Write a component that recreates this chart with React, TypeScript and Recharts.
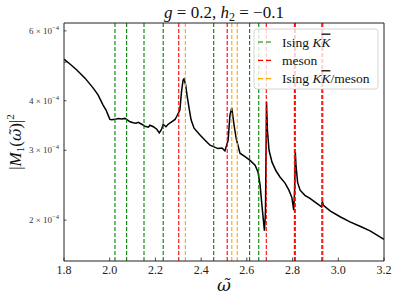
import { LineChart, Line, XAxis, YAxis, ReferenceLine } from "recharts";

// omega tilde values (x) and |M1|^2 in units of 1e-4 (y)
const omegaValues = [
  1.8, 1.826, 1.856, 1.892, 1.927, 1.949, 1.971, 1.984, 1.993, 2.001, 2.009, 2.023, 2.038, 2.052, 2.067, 2.077,
  2.089, 2.103, 2.115, 2.125, 2.14, 2.154, 2.169, 2.176, 2.191, 2.206, 2.217, 2.227, 2.234, 2.246, 2.256, 2.271,
  2.286, 2.293, 2.307, 2.314, 2.321, 2.325, 2.332, 2.338, 2.347, 2.356, 2.369, 2.395, 2.417, 2.439, 2.456, 2.474,
  2.491, 2.504, 2.518, 2.526, 2.534, 2.544, 2.553, 2.57, 2.592, 2.614, 2.636, 2.649, 2.658, 2.666, 2.673, 2.677,
  2.681, 2.682, 2.686, 2.69, 2.697, 2.71, 2.728, 2.745, 2.767, 2.784, 2.797, 2.805, 2.809, 2.812, 2.815, 2.822,
  2.833, 2.854, 2.876, 2.903, 2.927, 2.93, 2.935, 2.964, 3.008, 3.051, 3.095, 3.139, 3.2,
];
const m1Squared = [
  5.09, 4.95, 4.78, 4.56, 4.31, 4.14, 3.9, 3.79, 3.68, 3.59, 3.58, 3.59, 3.61, 3.6, 3.61, 3.58,
  3.54, 3.52, 3.51, 3.53, 3.49, 3.45, 3.43, 3.47, 3.44, 3.39, 3.32, 3.39, 3.49, 3.44, 3.49, 3.54,
  3.59, 3.65, 3.79, 4.21, 4.51, 4.54, 4.39, 4.14, 3.84, 3.58, 3.41, 3.28, 3.18, 3.09, 3.06, 3.03,
  3.04, 2.99, 3.18, 3.68, 3.84, 3.47, 3.22, 2.95, 2.89, 2.83, 2.75, 2.64, 2.45, 2.18, 1.98, 1.88,
  2.06, 2.25, 3.97, 3.37, 3.0, 2.8, 2.66, 2.57, 2.48, 2.38, 2.28, 2.12, 2.38, 2.97, 2.75, 2.49,
  2.38, 2.31, 2.27, 2.21, 2.16, 2.23, 2.18, 2.11, 2.04, 1.98, 1.93, 1.88, 1.79,
];

const isingKK = [2.023, 2.074, 2.15, 2.234, 2.455, 2.612, 2.652];
const meson = [2.302, 2.514, 2.685, 2.808, 2.812, 2.928, 2.932];
const isingKKMeson = [2.331, 2.534, 2.558];

const xTicks = [1.8, 2.0, 2.2, 2.4, 2.6, 2.8, 3.0, 3.2];
const yTicks = [2, 3, 4, 5, 6];
const yLabelled = [2, 3, 4, 6];

const data = omegaValues.map((w, i) => ({ w, v: m1Squared[i] }));

const serif = '"Liberation Serif", "DejaVu Serif", serif';
const mathSerif = '"DejaVu Serif", serif';

const XTick = ({ x, y, payload }: any) => (
  <g>
    <line x1={x} x2={x} y1={y} y2={y - 3.5} stroke="#222" strokeWidth={0.8} />
    <text x={x} y={y + 13} textAnchor="middle" fontSize={12} fontFamily={serif} fill="#222">
      {payload.value.toFixed(1)}
    </text>
  </g>
);

const YTick = ({ x, y, payload }: any) => (
  <g>
    <line x1={x} x2={x + 2.5} y1={y} y2={y} stroke="#222" strokeWidth={0.8} />
    {yLabelled.includes(payload.value) && (
      <text x={x - 5} y={y + 3} textAnchor="end" fontSize={9} fontFamily={serif} fill="#333">
        {payload.value} × 10
        <tspan fontSize={6.5} dy={-4}>−4</tspan>
      </text>
    )}
  </g>
);

const legendItems = [
  { color: "green", label: "kk" },
  { color: "red", label: "meson" },
  { color: "orange", label: "kkm" },
];

export default function App() {
  return (
    <div style={{ position: "relative", width: 399, height: 301 }}>
      <style>{"body{margin:0}"}</style>
      <LineChart width={399} height={301} data={data} margin={{ top: 22, right: 14, bottom: 20, left: 24 }}>
        <XAxis
          type="number"
          dataKey="w"
          domain={[1.8, 3.2]}
          ticks={xTicks}
          interval={0}
          height={20}
          tickSize={0}
          tickMargin={0}
          tick={<XTick />}
          axisLine={{ stroke: "#222" }}
          allowDataOverflow
        />
        <XAxis xAxisId="top" orientation="top" type="number" domain={[1.8, 3.2]} height={1} tick={false} tickLine={false} axisLine={{ stroke: "#222" }} />
        <YAxis
          type="number"
          scale="log"
          domain={[1.578, 6.28]}
          ticks={yTicks}
          interval={0}
          width={40}
          tickSize={0}
          tickMargin={0}
          tick={<YTick />}
          axisLine={{ stroke: "#222" }}
          allowDataOverflow
        />
        <YAxis yAxisId="right" orientation="right" type="number" domain={[0, 1]} width={1} tick={false} tickLine={false} axisLine={{ stroke: "#222" }} />
        <Line type="linear" dataKey="v" stroke="#000" strokeWidth={1.5} dot={false} isAnimationActive={false} />
        {isingKK.map((x) => (
          <ReferenceLine key={"g" + x} x={x} stroke="green" strokeWidth={1.1} strokeDasharray="4 2" />
        ))}
        {meson.map((x) => (
          <ReferenceLine key={"r" + x} x={x} stroke="red" strokeWidth={1.1} strokeDasharray="4 2" />
        ))}
        {isingKKMeson.map((x) => (
          <ReferenceLine key={"o" + x} x={x} stroke="orange" strokeWidth={1.1} strokeDasharray="4 2" />
        ))}
      </LineChart>
      <svg width={399} height={301} style={{ position: "absolute", left: 0, top: 0, pointerEvents: "none" }}>
        <text x={224} y={18} textAnchor="middle" fontSize={17} fontFamily={serif} fill="#111">
          <tspan fontStyle="italic">g</tspan> = 0.2, <tspan fontStyle="italic">h</tspan>
          <tspan fontSize={12} dy={3}>2</tspan>
          <tspan dy={-3}> = −0.1</tspan>
        </text>
        <text x={224} y={291} textAnchor="middle" fontSize={17} fontFamily={mathSerif} fontStyle="italic" fill="#111">
          ω̃
        </text>
        <text transform="translate(21,142) rotate(-90)" textAnchor="middle" fontSize={17} fontFamily={serif} fill="#111">
          |<tspan fontStyle="italic">M</tspan>
          <tspan fontSize={11} dy={3}>1</tspan>
          <tspan dy={-3}>(</tspan>
          <tspan fontStyle="italic" fontFamily={mathSerif} fontSize={15}>ω̃</tspan>)|
          <tspan fontSize={11} dy={-7}>2</tspan>
        </text>
        <rect x={254} y={29} width={124} height={60} rx={3} fill="#fff" fillOpacity={0.8} stroke="#ccc" strokeWidth={0.8} />
        {legendItems.map((it, i) => {
          const cy = 42 + i * 18.3;
          return (
            <g key={it.label}>
              <line x1={258} x2={271} y1={cy} y2={cy} stroke={it.color} strokeWidth={1.2} strokeDasharray="5 3" />
              <text x={282} y={cy + 4.5} fontSize={13.5} fontFamily={serif} fill="#111">
                {it.label === "meson" ? (
                  "meson"
                ) : (
                  <>
                    Ising <tspan fontStyle="italic">K</tspan>
                    <tspan fontStyle="italic" textDecoration="overline">K</tspan>
                    {it.label === "kkm" ? "/meson" : ""}
                  </>
                )}
              </text>
            </g>
          );
        })}
      </svg>
    </div>
  );
}
